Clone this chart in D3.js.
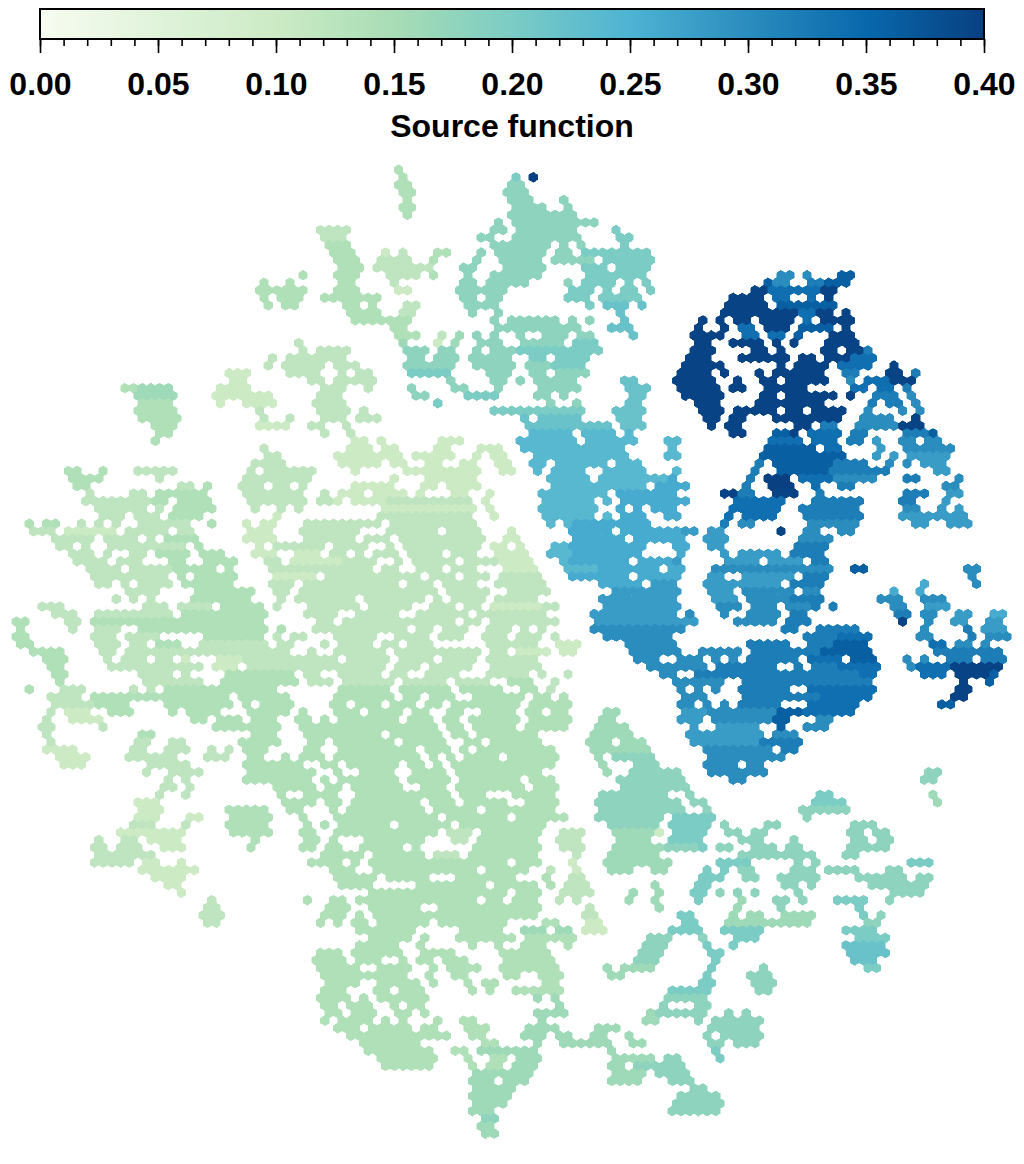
<!DOCTYPE html>
<html>
<head>
<meta charset="utf-8">
<script src="https://cdn.jsdelivr.net/npm/d3@7"></script>
<style>
  html, body { margin: 0; background: #fff; }
  text { font-family: "Liberation Sans", sans-serif; font-weight: bold; fill: #000; }
</style>
</head>
<body>
<div id="chart"></div>
<script>
const width = 1024;
const height = 1164;

// colorbar
const tickValues = [0, 0.05, 0.1, 0.15, 0.2, 0.25, 0.3, 0.35, 0.4];
const minorTicks = d3.range(0, 41).map(d => d / 100);
const colorStops = ["#f7fcf0", "#e0f3db", "#ccebc5", "#a8ddb5", "#7bccc4", "#4eb3d3", "#2b8cbe", "#0868ac", "#084081"];
const axisLabel = "Source function";

// source function level for each letter used in hexRows
const levelValues = {a:.10, b:.12, c:.14, d:.16, e:.18, f:.20, g:.22, h:.24, i:.26, j:.28, k:.30, l:.32, m:.34, n:.36, o:.395, p:.40};

// one string per hex row, top to bottom: "firstCol-lastCol level"
const hexRows = [
"44c",
"45c 58f 60p",
"44-45c 57-58e",
"45-46c 57-59e",
"45c 57-59e 63e",
"45-46c 58-61e 64e",
"45c 57-64e",
"56e 58-67e",
"35-38b 55-56e 58-64e 69f",
"36-38b 54-55e 58-65e 70-71f",
"36-38c 55-61e 63e 65e 70f",
"37-39c 43a 45b 49-50c 54e 56-61e 63-64e 66-73f",
"37-39c 42-45b 48c 53e 56-60e 62-66e 68-73f",
"38-40c 42-48b 52-53e 57-61e 66-68f 70-73f",
"33c 37-39c 43-46b 48c 52e 55-60e 66-72f 88-89k 91k 95-96n",
"29c 32c 38-39c 44b 52-53e 55-59e 64e 66-69f 71f 73f 87n 88-89k 92-93l 94-96n",
"28-33c 37-39c 44-45a 51-56e 64-66f 68f 70-71f 73f 85-86o 87-92m 93-94o",
"29c 31-33c 36-42c 52-53e 55-56e 64-66f 68-72f 83-86o 88-89m 92m 94o",
"29c 31-32c 38-39c 41c 45-46b 52-55e 66f 68-70g 72g 82-86o 88-94n",
"39-42c 45-46b 53e 56e 70g 82-90o 91-92m 93-94o 96o",
"39-45c 55e 57-62e 64e 66e 70g 79o 81o 83-84o 86-89o 91m 93-96o",
"44-45c 56-65e 69-71g 79o 82o 84-85m 87-89o 91-94n 96o",
"44-46c 49b 51d 53e 55e 58e 61-63e 65-66e 71g 78-81o 84-85m 87-88m 90n 94-96o",
"33b 45d 49a 51d 54-56e 59-63e 65-67f 79-80o 83-86o 88o 90o 94-97o",
"33b 35-38b 45-47e 49-50e 53e 55-57e 58-67f 78-80o 85-86o 88o 93-94o 96-97o 98l",
"30b 32-38b 46-47e 49-51e 53-57e 60-61f 63-66f 78-80o 84-89o 91-92o 94-96o 97-99m",
"29b 31-35b 37-39b 45-50e 53-57e 59-61e 62-65f 77-81o 88o 90-93o 95-98m 101o",
"25-27a 32-35b 38b 40-41b 46-50f 55-57e 60-61e 63-66e 77-80o 82o 86o 88-93o 96-97l 101-102o 104l",
"25-26a 34-35b 37-41b 50e 55-56e 58e 60-64e 70-71g 76-80o 83o 86-87o 89-93o 96k 98-100m 101-103o",
"13-14c 15-18d 24-27a 36-38b 41b 46e 51-52e 56e 61-65e 71-73g 77-81o 83-84o 87-91o 97-98m 100-101m 103l",
"14-18d 23-29a 35-37b 46-47e 52-55f 60-61e 63e 71-72g 77-81o 86-87o 89-94o 96o 99-101l 103k",
"15-18c 24a 27-30a 35-38b 49f 62e 65e 71-72g 79-81o 86-93o 99l 101-102l 104k",
"14-18c 28b 35-38b 40b 55-65f 69-72g 79-81o 83-87o 89-90o 92-95o 98k 102k 104k",
"15-19c 29b 32b 36-38b 40-42b 59g 61-65g 70-72g 80-81o 83-84o 88-95o 98-101k 104o",
"16-18c 28-31a 34-35b 38b 59-68g 70-72g 80o 82-83o 90-91o 93-94l 97-101k 102-104o",
"17-18c 36b 39b 60-64h 66-69h 71h 83-84o 88-89n 90o 92-95m 97-98l 103-105l 106n",
"16c 39-40a 42a 49-51a 58-64h 66-71h 75-76h 87-90m 92-94m 96-97l 99j 102-103k 105-106k",
"29b 39-41a 43-44a 49-50a 54-56a 59-70h 76h 87-92n 94-95m 100j 103-108k",
"29-30b 37-44a 46-50a 53a 55-56a 60-70h 75-76h 86-95n 99j 101j 103-107j",
"28-31b 38-42a 44-45a 48-49a 52-53a 56-57a 60-61h 63-68h 70-72h 86l 88-94n 95-98l 101k 103k 105-107j",
"6-7c 10c 14-18b 27b 29-34b 39a 45-53a 56-57a 60h 62-65h 68-72h 76h 85l 88-93n 94-100l 106-107j",
"7-10c 17b 27-34b 44a 48-53a 62-66h 68-75h 76i 85l 87-89p 91-94m 95-99k 103-104l 109k",
"7-8c 19-20b 22c 26-28b 30-31b 33b 39-43a 47-48a 50-53a 62-72h 74-77i 84l 87-89p 92m 95-96l 107-108k",
"9b 14-15b 17-22c 27-33b 36b 38-40a 42-45a 47a 51-52a 55a 61-68h 70-76i 82-83o 84-85l 88-90o 93l 103-105l 108-109j",
"8-15b 16-17c 19-22c 27-33b 35-36b 37a 39-42a 43-52b 54a 61-66h 68h 70-77i 83-88m 92-97l 102-103l 107j",
"10-15b 17b 19-23c 28b 31b 33b 43-53a 55a 61-67h 70i 72i 74-76i 83-88m 91-97l 103-104k 107j 109j",
"10-12b 14-16b 18-21c 30a 42-52b 55a 61-66h 68h 70-72i 75-76i 82m 84-87m 91-97l 102-109j",
"2c 4-5c 8b 10b 12b 15-20b 23c 27a 29-30a 34-42b 44-53b 62h 64h 65-73i 82l 84-85k 92-97k 104-105j 108-110j",
"2-4b 6-11a 13-17b 19-20b 27-29a 33-39b 43-48b 50-53b 57a 64-68i 70-76i 77-78j 80-81j 88o 91-92k 95-96k",
"5-9b 11-14b 16b 18-21c 27-30a 34-39b 41-43b 45-54b 57-58a 65-70i 72-77i 80-82j 91-94k",
"5-6b 8b 11-19b 21c 28a 30-35b 37-40b 43b 45-53b 55-56a 58a 62-63h 64-72i 76-77i 80-81j 90-93l",
"7-9b 11b 14-15b 17-20c 22-24c 28-30a 33-35a 37-38b 40b 42-44b 46-49b 51-53b 56-59a 62-64h 65-72i 77i 82j 84-88j 90-93l",
"7-10b 12-14b 18-19c 22-25c 29-30b 32-37a 38-41b 44b 46-50b 52-55b 56-59a 63h 64-70i 72-75i 76j 82-85j 87-90j 92-93l",
"9-12b 14-18b 19-23c 25c 30-38b 39-41b 43-44b 47-49b 51-53b 57-60a 64-67h 68-74i 76-77i 81-94k 97-98n 110-111k",
"9-17b 19c 21-25c 30-34a 36-46b 48-50b 52-54b 56-60b 64-70i 72-76i 80-81j 84-89j 91-93l 110k",
"10-11b 13b 15-18b 20c 21-25c 30-32b 34-44b 46-48b 50-53b 56-61b 68-72i 74-76j 80-88j 90-93l 105i 111k",
"13-16b 21-27c 30-31b 33-46b 47-48b 50-54b 57-61b 69-76j 80-82j 84-89k 91-92k 101i 104i",
"12b 14b 16b 21-27c 31b 33-39b 41-47b 49b 51-54b 56-60b 68-76j 81-83j 85-89k 90-93l 100-102k 105-107k",
"3-5b 15-17b 19-22b 24-28c 30b 34-39b 41-45b 48-50b 52-53b 55-60a 61-62b 68-76j 81-83k 85-87k 89-91k 92l 94l 101-102k 105-107j",
"5-7b 10-18b 20-29c 34-37b 40-44b 47-52b 54-61b 67-76j 78k 82k 85-88k 90-91l 102-103l 105-106k 109-110j 113-114i",
"0-1c 6-7b 9-28c 35-36b 38-50b 52-53b 55-62b 67-78j 83-87k 89-91l 102o 105k 108-109j 112-113j",
"1c 7b 10-12b 15-29c 31c 35-45b 47-48b 50-52b 55-57b 59b 61b 67-77k 89-90l 93-97l 105k 110l 112-114j",
"0-1c 9-11b 13-16b 22-28c 30b 32-33b 37-41b 44-47b 49-51b 54-56b 58-60b 62b 68-75k 91-94l 95-98m 104-105k 110l 112-114k",
"1-2c 10-12b 14-15b 17-19c 22-29b 31-32b 36b 38-41b 43-44b 46-48b 55-60b 63-65a 71-75k 76k 85-89l 92-94l 95-98n 106-107m 109-110k 112k",
"2-5c 10-11b 13-31b 34b 37-42b 44-53b 55-56b 58-61a 63-64a 71-74k 75-76k 79-83k 85-92l 93-98n 106-113l",
"4-6c 11b 13-15b 17-18b 20a 24-26a 27-37b 39-43b 45-48b 50-53b 55-60b 72-74k 77-79k 81k 83k 85-90l 92-95m 97-99n 103k 105k 108-110l 112-114l",
"4-5c 11-21b 23-25a 27-42b 44-46b 48-52b 55-60b 73-76k 77-79k 81-87l 90l 92-94l 95-99m 103k 104-107m 108-113o",
"5-6c 15-18b 20b 25-32c 34-35b 38-42b 44-45b 48-51b 55-59b 61b 64b 75-76k 79-97l 98-99m 105-107m 109-112o 113n",
"5c 15-21b 24-32c 34-36b 38-43b 45-49b 51-54b 57-59c 62b 76-81k 84-98l 109o 112n",
"2c 6-8b 14b 16b 18-30c 38-43c 45-50c 52-56c 59-60c 62b 77k 79k 81k 84-89l 92-99m 109-110o",
"4-7b 9-24c 26-31c 37-43c 45-46c 48-50c 53-58c 60-61c 63c 77-79k 84-92l 93-98m 108-109o",
"5-9b 10-13c 18-25c 27c 29-32c 37-38c 40-42c 44-46c 48-49c 51-58c 60-64c 77-78k 80k 82k 84-88l 92-97m 107-108n",
"4b 6-8a 11-13c 18c 20-23c 27-31c 33c 37-39c 41-44c 46-47c 50-51c 54-57c 59-60c 62-63c 68-69d 77-79j 80-87k 88-90n 91-96m",
"4b 7-10a 21-22c 24-26c 28-30c 33-34c 36c 38-44c 46-48c 50-51c 53-58c 60-64c 68-69d 77-79j 81-87k 88-89n 93-94k",
"3-4b 10b 23-30c 33-48c 50-51c 53-57c 59-63c 67-70d 78j 81-85j 88n 91-93k",
"4b 15-16c 28-30c 34-42c 44-49c 51-52c 54-60c 67-71d 78-80j 81-86j 88-90k",
"4b 14-15b 18-19b 26-30c 34-35c 37-43c 45-49c 52-53c 55-60c 66-68d 70-72d 78-85j 86-90l",
"4-7a 14-15b 18-20b 23b 25b 27-29c 34-35c 38-46c 48-50c 52c 54-62c 67-73d 80-87k 89-90l",
"5-8a 13-18b 22-24b 27-28c 31c 33-35c 37-46c 48c 50c 52-55c 57-62c 67d 69-73e 80-88k",
"6-8a 16-20b 27-33c 36-37c 39-44c 46-47c 49c 51-62c 68d 72-74e 80-83k 85-86k",
"15b 18-21b 27-34c 37c 40-43c 46-49c 51-60c 68d 71-76e 80-86k 105-106e",
"18b 20b 27-34c 36c 38-44c 46-50c 52-58c 60-62c 70-77e 83-84k 105-106e",
"17-18b 20b 30-34c 36-37c 39-44c 47-49c 51-58c 60-62c 70-77e",
"17b 20b 31c 34-37c 40-50c 52-54c 58-62c 68-75e 78e 93-94f 106d",
"14-16a 31-34c 36-37c 39-46c 48-50c 52-56c 59-62c 67-76e 78-79e 92-95f 106d",
"15-17a 25-29c 32-33c 37c 39-47c 49-53c 55-62c 68-77e 80e 91-96e",
"14-16a 20-21a 25-29c 33c 37-48c 50-56c 58-63c 67-74e 76-80f 91e",
"14-16b 20b 25-29c 34c 36c 38-43c 45-50c 52-61c 69-74e 76-80f 82e 87-88e 97-99e",
"12-19a 25-29c 33-34c 37-48c 50-52b 54-60c 63-65b 69-73d 74a 76-79f 82-83e 85-86e 96-97e 99-100e",
"10b 13-14b 16-19a 28c 34-35c 37c 41-47c 51-52b 54-60c 63-65b 70-73d 76-79f 84-86e 90e 97-98e 100-101e",
"9-10b 12-14b 17-19a 27c 33-34c 36-37c 40-44c 46c 53-60c 63-65b 69-74d 75-78e 79f 81-82e 85-87e 89-90e 96-100e",
"10-16b 36-40c 42-47c 49-51b 53-60c 65b 69-74d 84-92e 96-97e",
"9-13b 15-16a 19a 34-37c 39c 41-53c 54-56c 58-60c 64a 68-75d 81-84f 90e 92e 103-105f",
"15-21a 37-39c 42-53c 55-59c 62b 65a 69-71d 74-75d 80f 82f 84-85e 90-92e 94-97e 101-102e",
"16-19a 37-41c 43-47c 51-57c 61c 64-65b 79-81f 84-85e 88-92e 97-102e 104-105e",
"18-19a 38-41c 47-54c 56-60c 62c 64-66b 74d 79-80f 89-90e 92e 99-105e",
"19a 41-56c 58-60c 63-66b 71d 74d 78-79f 81e 83e 85e 90e 101-104e",
"23b 34c 37-38c 40-53c 55-56c 58-60c 63b 65b 71d 74d 79f 84d 88-89e 91e 95-98f 101e",
"22-23b 36-38c 41-46c 49-60c 66b 74d 83d 88e 97f",
"22-24b 36-38c 40c 42-60c 66-67b 77-78f 83d 85-86d 89-92d 98f 100e",
"22-23b 35c 37c 39-40c 42-47c 49-56c 61-62c 66-67a 77-78f 82-91d 98-99e",
"40-46c 52-56c 59-61d 63-64d 66-68a 76-79f 82-86f 96-99f",
"41-45c 47c 51-57c 59-64c 73-75e 79e 83-85f 97-100f",
"40-44c 47c 53c 56c 59-61c 64c 73-75e 80f 83f 96-100g",
"35-37c 39-44c 47-50c 56-61c 72-74e 80-81f 96-100g",
"35-38c 40-42c 45c 47-48c 50-52c 57-62c 72-74e 81f 97-99g",
"35-39c 42-45c 48c 50-53c 56-62c 68d 70-73d 80f 86e 98-99f",
"36-45c 48c 51-52c 57-58c 61-63c 69-70d 80f 85-87e",
"36-39c 42-46c 48c 52c 54-55c 61-62c 79-80f 85-87e",
"36-38c 42-43c 45-47c 53c 55c 58-63c 76-80f 86-87e",
"35-38c 40c 42-47c 60d 62d 75-79e",
"36-37c 39-41c 44c 46-47c 63d 75e 79-80e",
"36-37c 39-41c 44-45c 47c 60-63d 73d 74-79e 82e 84e",
"36c 38-41c 43c 45c 49c 52-53c 61d 73-74d 79e 81e 82-86e",
"37-39c 41-45c 47-48c 52-54c 59-62d 67-69d 80-85e",
"39-50c 53-54c 59-61d 63-64d 67-68d 71d 80e 82-86e",
"40-46c 54-55c 60d 63-68d 71-72d 80-81e 83-85e",
"41-48c 51-52c 54-60d 69d 81f",
"42-48c 52c 55-56c 58-60d 69-73d 75-76e 81f",
"43-48c 53c 55-56c 58-60d 69-70d 72-77e",
"53-59d 69-72d 74-77e",
"53-55d 57-59d 69-72d 76-78e",
"53-57d 78-79e",
"53-57d 77-81e",
"53-56d 76-81e",
"53-55d 76-81e",
"54-55e",
"54-55d",
"54-55d"
];

const svg = d3.select("#chart").append("svg")
  .attr("width", width)
  .attr("height", height);

// color scale, linear between the nine stops
const colorScale = d3.scaleLinear()
  .domain(tickValues)
  .range(colorStops);

// turn the row strings into cells
const cellMap = new Map();
hexRows.forEach((rowText, row) => {
  for (const m of rowText.matchAll(/(\d+)(?:-(\d+))?([a-p])/g)) {
    const first = +m[1];
    const last = m[2] ? +m[2] : first;
    d3.range(first, last + 1).forEach(col => {
      cellMap.set(row + "_" + col, {row: row, col: col, value: levelValues[m[3]]});
    });
  }
});
const cells = Array.from(cellMap.values());

/*

  Hex map

*/
const xScale = d3.scaleLinear().domain([0, 1]).range([11.9, 20.59]);
const yScale = d3.scaleLinear().domain([0, 1]).range([169.8, 177.33]);
const hexR = (yScale(1) - yScale(0)) / 1.5;
const hexPath = d3.range(6).map(k => {
  const a = Math.PI / 3 * k;
  return [hexR * Math.sin(a), -hexR * Math.cos(a)];
});

svg.append("g").selectAll("path")
  .data(cells)
  .enter()
  .append("path")
    .attr("d", "M" + hexPath.join("L") + "Z")
    .attr("transform", d => `translate(${xScale(d.col + (d.row % 2 ? 0 : 0.5))},${yScale(d.row)})`)
    .attr("fill", d => colorScale(d.value))
    .attr("stroke", d => colorScale(d.value))
    .attr("stroke-width", 0.5)
    .attr("shape-rendering", "crispEdges");

/*

  Colorbar

*/
const barScale = d3.scaleLinear().domain([0, 0.4]).range([40, 984]);
const barTop = 9;
const barBottom = 39;

const gradient = svg.append("defs").append("linearGradient")
  .attr("id", "bar-gradient");
gradient.selectAll("stop")
  .data(tickValues)
  .enter()
  .append("stop")
    .attr("offset", d => (d / 0.4 * 100) + "%")
    .attr("stop-color", d => colorScale(d));

svg.append("rect")
  .attr("x", barScale(0))
  .attr("y", barTop)
  .attr("width", barScale(0.4) - barScale(0))
  .attr("height", barBottom - barTop)
  .attr("fill", "url(#bar-gradient)")
  .attr("stroke", "#000")
  .attr("stroke-width", 2);

// minor ticks
svg.append("g")
  .attr("transform", `translate(0,${barBottom})`)
  .call(d3.axisBottom(barScale).tickValues(minorTicks).tickSize(7).tickFormat(""))
  .call(g => g.select(".domain").remove())
  .call(g => g.selectAll("line").attr("stroke-width", 1.6));

// major ticks and labels
svg.append("g")
  .attr("transform", `translate(0,${barBottom})`)
  .call(d3.axisBottom(barScale).tickValues(tickValues).tickSize(14).tickPadding(19).tickFormat(d3.format(".2f")))
  .call(g => g.select(".domain").remove())
  .call(g => g.selectAll("line").attr("stroke-width", 1.6))
  .call(g => g.selectAll("text").attr("font-size", 32).attr("font-family", "Liberation Sans").attr("fill", "#000"));

svg.append("text")
  .attr("x", barScale(0.2))
  .attr("y", 137)
  .attr("text-anchor", "middle")
  .attr("font-size", 32)
  .text(axisLabel);
</script>
</body>
</html>
